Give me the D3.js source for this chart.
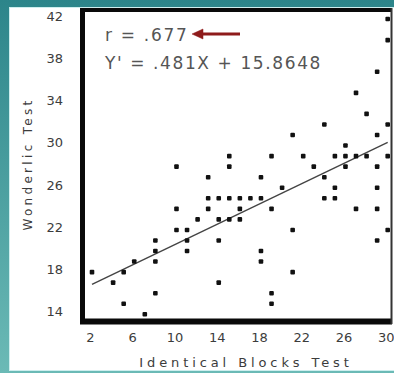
<!DOCTYPE html>
<html>
<head>
<meta charset="utf-8">
<script src="https://cdn.jsdelivr.net/npm/d3@7"></script>
<style>
  html, body { margin: 0; padding: 0; background: #2f898e; }
  svg { display: block; }
  text { font-family: "DejaVu Sans", sans-serif; }
</style>
</head>
<body>
<figure id="scatter" style="margin:0"></figure>
<script>
// Identical Blocks Test (x) vs Wonderlic Test (y), one entry per person
const blocks = [2, 4, 5, 5, 6, 7, 8, 8, 8, 8,
  10, 10, 10, 11, 11, 11, 12,
  13, 13, 13, 14, 14, 14, 14,
  15, 15, 15, 15, 16, 16, 16, 17,
  18, 18, 18, 18, 19, 19, 19, 19,
  20, 21, 21, 21, 22, 23,
  24, 24, 24, 25, 25, 25,
  26, 26, 26, 27, 27, 27, 28, 28,
  29, 29, 29, 29, 29, 29,
  30, 30, 30, 30, 30];
const wonderlic = [18, 17, 15, 18, 19, 14, 21, 20, 19, 16,
  28, 24, 22, 22, 21, 20, 23,
  27, 25, 24, 25, 23, 21, 17,
  29, 28, 25, 23, 25, 24, 23, 25,
  27, 25, 20, 19, 29, 24, 16, 15,
  26, 31, 22, 18, 29, 28,
  32, 27, 25, 29, 26, 25,
  30, 29, 28, 35, 29, 24, 33, 29,
  37, 31, 28, 26, 24, 21,
  42, 40, 32, 29, 22];

const xTicks = [2, 6, 10, 14, 18, 22, 26, 30];
const yTicks = [14, 18, 22, 26, 30, 34, 38, 42];

const slope = 0.481;
const intercept = 15.8648;
const rLabel = "r = .677";
const eqLabel = "Y' = .481X + 15.8648";

const width = 394;
const height = 373;

const svg = d3.select("figure#scatter")
  .append("svg")
  .attr("width", width)
  .attr("height", height);

// teal slide background + white panel
const grad = svg.append("defs").append("linearGradient")
  .attr("id", "bg").attr("x1", 0).attr("y1", 0).attr("x2", 0).attr("y2", 1);
grad.append("stop").attr("offset", "0%").attr("stop-color", "#2c858a");
grad.append("stop").attr("offset", "100%").attr("stop-color", "#6bbab6");

svg.append("rect")
  .attr("width", width).attr("height", height)
  .attr("fill", "url(#bg)");

svg.append("rect")
  .attr("x", 9.5).attr("y", 7.5)
  .attr("width", 390).attr("height", 363)
  .attr("fill", "#ffffff")
  .attr("stroke", "#cdeeee")
  .attr("stroke-width", 1);

const x = d3.scaleLinear().domain([2, 30]).range([92, 387.7]);
const y = d3.scaleLinear().domain([14, 42]).range([314.3, 19]);

// frame, heavier on left and bottom
const frame = svg.append("g").attr("stroke", "#0a0a0a");
frame.append("line").attr("x1", 82.5).attr("x2", 82.5).attr("y1", 8).attr("y2", 324).attr("stroke-width", 5);
frame.append("line").attr("x1", 80).attr("x2", 392).attr("y1", 10).attr("y2", 10).attr("stroke-width", 4);
frame.append("line").attr("x1", 80).attr("x2", 392).attr("y1", 321.5).attr("y2", 321.5).attr("stroke-width", 6);
frame.append("line").attr("x1", 391.5).attr("x2", 391.5).attr("y1", 8).attr("y2", 324).attr("stroke-width", 2).attr("stroke", "#333");

// axes (labels only)
const xAxis = svg.append("g")
  .attr("transform", "translate(0,333)")
  .call(d3.axisBottom(x).tickValues(xTicks).tickSize(0).tickPadding(0));
xAxis.select(".domain").remove();
xAxis.selectAll("text")
  .attr("dx", "-2")
  .style("font-size", "13px")
  .style("fill", "#3c3c3c");

const yAxis = svg.append("g")
  .attr("transform", "translate(67,0)")
  .call(d3.axisLeft(y).tickValues(yTicks).tickSize(0).tickPadding(4));
yAxis.select(".domain").remove();
yAxis.selectAll("text")
  .attr("dy", "0.1em")
  .style("font-size", "13px")
  .style("fill", "#3c3c3c");

svg.append("text")
  .attr("x", 246).attr("y", 367)
  .attr("text-anchor", "middle")
  .style("font-size", "13px")
  .style("letter-spacing", "3.9px")
  .style("fill", "#3c3c3c")
  .text("Identical Blocks Test");

svg.append("text")
  .attr("transform", "translate(32,164)rotate(-90)")
  .attr("text-anchor", "middle")
  .style("font-size", "12px")
  .style("letter-spacing", "3.3px")
  .style("fill", "#3c3c3c")
  .text("Wonderlic Test");

// regression line
svg.append("line")
  .attr("x1", x(2)).attr("y1", y(slope * 2 + intercept))
  .attr("x2", x(30)).attr("y2", y(slope * 30 + intercept))
  .attr("stroke", "#444")
  .attr("stroke-width", 1.4);

// points
svg.selectAll("points")
  .data(blocks.map((b, i) => ({ b: b, w: wonderlic[i] })))
  .enter()
  .append("rect")
  .attr("x", d => x(d.b) - 2.3)
  .attr("y", d => y(d.w) - 2.3)
  .attr("width", 4.6)
  .attr("height", 4.6)
  .attr("rx", 1)
  .attr("fill", "#111");

// annotations
svg.append("text")
  .attr("x", 105).attr("y", 41)
  .style("font-size", "17px")
  .style("letter-spacing", "1.7px")
  .style("fill", "#555")
  .text(rLabel);

svg.append("text")
  .attr("x", 105).attr("y", 69)
  .style("font-size", "17px")
  .style("letter-spacing", "1.6px")
  .style("fill", "#555")
  .text(eqLabel);

const arrow = svg.append("g").attr("fill", "#8e1b1b").attr("stroke", "#8e1b1b");
arrow.append("line")
  .attr("x1", 200).attr("x2", 240).attr("y1", 34).attr("y2", 34)
  .attr("stroke-width", 3);
arrow.append("path")
  .attr("d", "M192,34 L203,29 L203,39 Z")
  .attr("stroke-width", 0.5);
</script>
</body>
</html>
